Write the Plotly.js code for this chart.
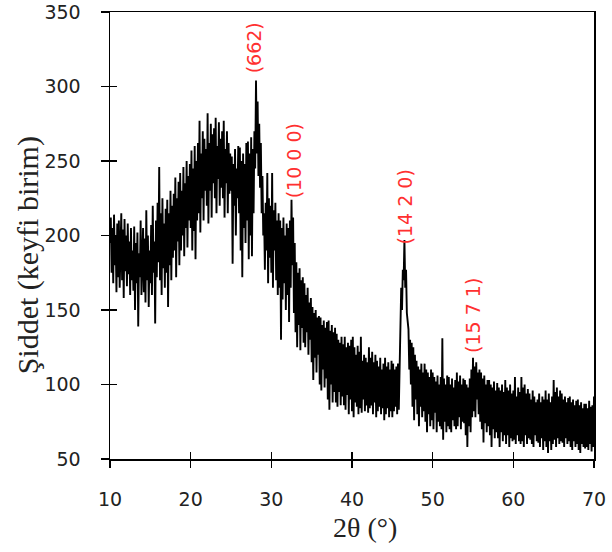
<!DOCTYPE html>
<html>
<head>
<meta charset="utf-8">
<script src="https://cdn.plot.ly/plotly-3.0.1.min.js"></script>
<style>html,body{margin:0;padding:0;background:#fff;}#chart{width:612px;height:552px;}</style>
</head>
<body>
<div id="chart"></div>
<script>
// 2θ sampling: start 10°, step 0.1°
const twoThetaStart = 10;
const twoThetaStep = 0.1;

// Intensity (arbitrary units), per 10° block
const int10to20 = [
  195,212,175,205,168,214,180,200,162,208,
  172,210,165,198,215,170,204,158,211,176,
  200,166,208,174,196,160,205,170,190,163,
  206,150,195,168,202,139,188,172,210,160,
  180,205,162,198,155,217,170,200,152,190,
  168,207,160,220,175,196,141,210,172,222,
  182,246,170,215,160,225,178,208,165,218,
  175,224,152,215,180,230,170,220,185,228,
  190,239,172,225,196,236,180,242,190,230,
  200,246,186,235,205,250,192,240,210,248
];
const int20to30 = [
  205,257,190,245,203,260,184,250,210,262,
  215,277,202,255,225,270,210,265,230,258,
  220,282,208,262,230,275,212,268,235,272,
  225,279,215,260,238,276,220,265,232,270,
  225,277,212,258,235,270,215,262,228,255,
  230,253,181,248,220,258,200,245,225,260,
  215,259,190,250,172,255,205,248,195,262,
  210,263,184,255,200,266,186,258,215,270,
  245,304,255,290,240,275,232,262,215,240,
  200,215,177,222,190,242,168,225,185,220
];
const int30to40 = [
  175,242,165,217,190,222,170,210,160,215,
  165,210,130,205,157,212,168,200,150,208,
  160,205,142,210,165,224,180,212,148,195,
  135,182,125,175,140,178,123,170,138,172,
  128,168,125,160,135,165,120,155,130,158,
  115,152,103,148,118,150,108,145,120,146,
  100,145,96,140,110,143,98,138,104,142,
  90,143,83,136,100,140,88,135,95,138,
  88,134,85,130,95,128,86,132,92,127,
  86,132,83,125,93,128,80,126,90,130
];
const int40to50 = [
  82,132,78,125,88,120,85,126,80,122,
  84,132,81,116,90,120,82,118,86,115,
  81,125,84,118,86,122,80,115,88,120,
  78,116,82,112,85,118,80,110,84,114,
  76,118,80,112,84,115,78,110,82,116,
  78,114,82,110,85,112,80,114,83,112,
  145,165,150,177,170,197,165,177,148,140,
  137,110,130,100,128,85,125,76,120,90,
  116,80,112,72,110,85,114,78,108,82,
  114,75,110,68,108,80,105,72,110,76
];
const int50to60 = [
  108,70,105,81,102,68,106,75,100,72,
  105,70,131,63,104,75,100,68,106,72,
  105,70,100,68,104,76,98,72,103,70,
  108,72,102,78,106,70,100,75,104,74,
  103,66,100,58,98,72,104,68,110,78,
  118,82,112,78,115,90,108,80,110,75,
  108,70,104,61,106,74,100,68,103,72,
  103,66,100,58,98,70,102,64,96,68,
  101,64,98,58,96,68,100,62,95,66,
  103,60,98,66,96,58,100,64,94,62
];
const int60to70 = [
  96,63,105,60,92,66,98,62,95,60,
  105,62,98,58,100,66,94,60,97,64,
  94,63,90,60,96,58,92,66,88,62,
  90,61,94,58,88,64,92,56,90,62,
  96,58,90,54,94,62,88,56,92,60,
  103,63,95,58,98,64,92,60,96,62,
  94,61,90,58,92,64,88,60,91,62,
  92,58,88,56,90,62,86,58,89,60,
  90,56,86,54,88,60,84,58,87,57,
  87,58,84,56,89,60,85,55,86,58,
  92
];

// Peak labels
const peakLabels = ["(662)", "(10 0 0)", "(14 2 0)", "(15 7 1)"];
const peakLabelX = [27.8, 32.85, 46.6, 55.0];
const peakLabelY = [326, 250, 219, 146];

const xTicks = [10, 20, 30, 40, 50, 60, 70];
const yTicks = [50, 100, 150, 200, 250, 300, 350];

const xTitle = '2θ (°)';
const yTitle = 'Şiddet (keyfi birim)';

const intensity = [].concat(int10to20, int20to30, int30to40, int40to50, int50to60, int60to70);

const trace = {
  type: 'scatter',
  mode: 'lines',
  x0: twoThetaStart,
  dx: twoThetaStep,
  y: intensity,
  line: {color: '#000000', width: 1.9},
  hoverinfo: 'skip',
  showlegend: false
};

const annotations = peakLabels.map((t, i) => ({
  text: t, x: peakLabelX[i], y: peakLabelY[i], xref: 'x', yref: 'y',
  showarrow: false, textangle: -90,
  font: {family: 'DejaVu Sans, Verdana, sans-serif', size: 19, color: '#ff3030'}
}));

annotations.push({
  text: xTitle, xref: 'paper', yref: 'paper', x: 0.527, y: -0.154,
  xanchor: 'center', yanchor: 'middle', showarrow: false,
  font: {family: 'Liberation Serif, Times New Roman, serif', size: 28, color: '#222222'}
});
annotations.push({
  text: yTitle, xref: 'paper', yref: 'paper', x: -0.169, y: 0.456,
  xanchor: 'center', yanchor: 'middle', showarrow: false, textangle: -90,
  font: {family: 'Liberation Serif, Times New Roman, serif', size: 30, color: '#222222'}
});

const tickFont = {family: 'DejaVu Sans, Verdana, sans-serif', size: 19, color: '#222222'};

const layout = {
  width: 612, height: 552,
  margin: {l: 110, r: 18, t: 12, b: 93},
  paper_bgcolor: '#ffffff', plot_bgcolor: '#ffffff',
  showlegend: false,
  xaxis: {
    range: [10, 70], tickvals: xTicks, ticktext: xTicks.map(String),
    ticks: 'outside', ticklen: 7, tickwidth: 1.3, tickcolor: '#000',
    showline: true, linecolor: '#000', linewidth: 1.5, mirror: true,
    showgrid: false, zeroline: false, tickfont: tickFont, ticklabelstandoff: 16
  },
  yaxis: {
    range: [50, 350], tickvals: yTicks, ticktext: yTicks.map(String),
    ticks: 'outside', ticklen: 8, tickwidth: 1.3, tickcolor: '#000',
    showline: true, linecolor: '#000', linewidth: 1.5, mirror: true,
    showgrid: false, zeroline: false, tickfont: tickFont, ticklabelstandoff: 16
  },
  xaxis2: {
    overlaying: 'x', anchor: 'y', range: [10, 70], tickvals: xTicks,
    ticks: 'inside', ticklen: 7, tickwidth: 1.3, tickcolor: '#000',
    showticklabels: false, showline: false, showgrid: false, zeroline: false
  },
  yaxis2: {
    overlaying: 'y', anchor: 'x', side: 'left', range: [50, 350], tickvals: yTicks,
    ticks: 'inside', ticklen: 7, tickwidth: 1.3, tickcolor: '#000',
    showticklabels: false, showline: false, showgrid: false, zeroline: false
  },
  annotations: annotations
};

const helper = {type: 'scatter', mode: 'lines', x: [], y: [], xaxis: 'x2', yaxis: 'y2', showlegend: false, hoverinfo: 'skip'};

Plotly.newPlot('chart', [trace, helper], layout, {displayModeBar: false, staticPlot: true});
</script>
</body>
</html>
